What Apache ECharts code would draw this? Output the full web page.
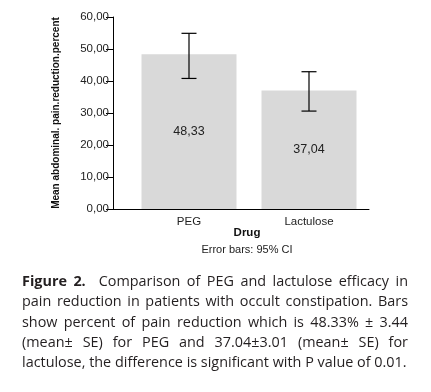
<!DOCTYPE html>
<html>
<head>
<meta charset="utf-8">
<script src="https://cdn.jsdelivr.net/npm/echarts@6/dist/echarts.min.js"></script>
<style>
    body { margin: 0; background: #fff; }
    #chart { position: absolute; left: 0; top: 0; width: 431px; height: 392px; }
    #caption {
        position: absolute; left: 22px; top: 271px; width: 386px;
        font-family: "Open Sans", Lato, sans-serif; font-size: 14.4px; line-height: 20.3px;
        color: #231f20;
    }
    #caption div { text-align: justify; text-align-last: justify; white-space: nowrap; }
    #caption div.last { text-align-last: left; }
</style>
</head>
<body>
<div id="chart"></div>
<div id="caption">
    <div><b>Figure 2.</b>&nbsp; Comparison of PEG and lactulose efficacy in</div>
    <div>pain reduction in patients with occult constipation. Bars</div>
    <div>show percent of pain reduction which is 48.33% ± 3.44</div>
    <div>(mean± SE) for PEG and 37.04±3.01 (mean± SE) for</div>
    <div class="last">lactulose, the difference is significant with P value of 0.01.</div>
</div>
<script>
var drugs = ['PEG', 'Lactulose'];
var means = [48.33, 37.04];
var ciLow = [40.8, 30.6];
var ciHigh = [54.9, 42.9];

var narrow = '"Liberation Sans Narrow", "Arial Narrow", sans-serif';

var chart = echarts.init(document.getElementById('chart'));

var barData = means.map(function (m, i) { return [i, m]; });
var errData = means.map(function (m, i) { return [i, ciLow[i], ciHigh[i]]; });

var option = {
    animation: false,
    grid: { left: 113, right: 62, top: 17, bottom: 183 },
    xAxis: {
        type: 'value',
        min: -0.5 - 16 / 120,
        max: 1.5,
        splitLine: { show: false },
        axisTick: { show: false },
        axisLine: { show: true, onZero: false, lineStyle: { color: '#000', width: 1 } },
        axisLabel: {
            customValues: [0, 1],
            formatter: function (v) { return drugs[Math.round(v)]; },
            fontFamily: narrow, fontSize: 11.5, color: '#222', margin: 7
        }
    },
    yAxis: {
        type: 'value',
        min: 0, max: 60, interval: 10,
        splitLine: { show: false },
        axisLine: { show: true, onZero: false, lineStyle: { color: '#000', width: 1 } },
        axisTick: { show: true, inside: false, length: 7, lineStyle: { color: '#000' } },
        axisLabel: {
            formatter: function (v) { return v.toFixed(2).replace('.', ','); },
            fontFamily: narrow, fontSize: 11.5, color: '#222', margin: 4
        },
        name: 'Mean abdominal. pain.reduction.percent',
        nameLocation: 'middle',
        nameGap: 52,
        nameTextStyle: { fontFamily: narrow, fontWeight: 'bold', fontSize: 10, color: '#111' }
    },
    series: [{
        type: 'bar',
        data: barData,
        barWidth: 95,
        itemStyle: { color: '#d9d9d9' },
        label: {
            show: true, position: 'inside',
            formatter: function (p) { return p.value[1].toFixed(2).replace('.', ','); },
            fontFamily: narrow, fontSize: 12.5, color: '#222'
        }
    }, {
        type: 'custom',
        data: errData,
        renderItem: function (params, api) {
            var lo = api.coord([api.value(0), api.value(1)]);
            var hi = api.coord([api.value(0), api.value(2)]);
            var half = 7.5;
            var st = { stroke: '#000', lineWidth: 1.2 };
            return {
                type: 'group',
                children: [
                    { type: 'line', shape: { x1: hi[0], y1: hi[1], x2: lo[0], y2: lo[1] }, style: st },
                    { type: 'line', shape: { x1: hi[0] - half, y1: hi[1], x2: hi[0] + half, y2: hi[1] }, style: st },
                    { type: 'line', shape: { x1: lo[0] - half, y1: lo[1], x2: lo[0] + half, y2: lo[1] }, style: st }
                ]
            };
        },
        z: 5
    }],
    graphic: [
        { type: 'text', x: 247, y: 233, style: { text: 'Drug', align: 'center', verticalAlign: 'middle', fontFamily: narrow, fontWeight: 'bold', fontSize: 11.5, fill: '#111' } },
        { type: 'text', x: 247, y: 250, style: { text: 'Error bars: 95% CI', align: 'center', verticalAlign: 'middle', fontFamily: narrow, fontSize: 11, fill: '#222' } }
    ]
};

chart.setOption(option);
</script>
</body>
</html>
